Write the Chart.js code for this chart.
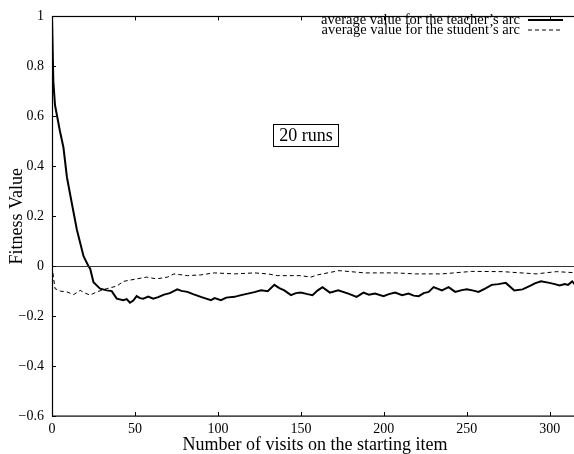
<!DOCTYPE html>
<html>
<head>
<meta charset="utf-8">
<script src="https://cdn.jsdelivr.net/npm/chart.js@4/dist/chart.umd.min.js"></script>
<style>
html,body{margin:0;padding:0;overflow:hidden;background:#fff;}
#wrap{position:relative;width:578px;height:454px;}
</style>
</head>
<body>
<div id="wrap"><canvas id="c" width="578" height="454"></canvas></div>
<script>
const xTicks = [0, 50, 100, 150, 200, 250, 300];
const yTicks = [-0.6, -0.4, -0.2, 0, 0.2, 0.4, 0.6, 0.8, 1];

const seriesLabels = ["average value for the teacher\u2019s arc", "average value for the student\u2019s arc"];

const teacherX = [0, 0.8, 1.8, 4.8, 6.9, 9, 12, 15, 19, 22, 23, 25, 28, 29, 33, 36, 39, 43, 45, 47, 49, 51, 53, 55, 58, 61, 64, 67.5, 71, 75.5, 78, 81.6, 85, 89.7, 92, 95.8, 98, 101.8, 105, 109.9, 114, 118, 122, 126, 130, 134, 137, 140, 144, 147, 150, 154, 157, 160, 163, 167.5, 172.5, 178.6, 183.6, 187.7, 191, 194.7, 199.8, 203, 206.8, 211, 214.9, 218, 221, 224, 227, 230, 235, 239, 243, 247, 250, 254, 257, 261, 265, 269, 273.5, 278.6, 283.6, 288.7, 291, 294.7, 299.8, 303, 305.9, 309, 311, 313.5, 317];
const teacherY = [1, 0.74, 0.645, 0.54, 0.475, 0.356, 0.25, 0.146, 0.04, 0, -0.01, -0.064, -0.084, -0.09, -0.097, -0.1, -0.13, -0.136, -0.132, -0.146, -0.138, -0.12, -0.128, -0.13, -0.122, -0.13, -0.124, -0.114, -0.108, -0.093, -0.099, -0.103, -0.112, -0.123, -0.128, -0.136, -0.128, -0.136, -0.126, -0.123, -0.116, -0.11, -0.104, -0.097, -0.1, -0.075, -0.088, -0.097, -0.116, -0.108, -0.106, -0.112, -0.116, -0.098, -0.084, -0.106, -0.097, -0.11, -0.123, -0.106, -0.114, -0.11, -0.12, -0.112, -0.106, -0.116, -0.11, -0.118, -0.12, -0.108, -0.103, -0.084, -0.097, -0.084, -0.103, -0.096, -0.093, -0.098, -0.103, -0.09, -0.075, -0.072, -0.067, -0.097, -0.093, -0.077, -0.069, -0.061, -0.067, -0.072, -0.077, -0.072, -0.075, -0.061, -0.088];

const studentX = [0, 1.8, 5, 9, 13, 17, 20, 23, 27, 33, 39, 43, 51, 57, 63, 69.5, 73.5, 81.6, 89.7, 97.8, 110, 122, 130, 136, 150, 156, 160, 173, 188.5, 206.8, 219, 235, 253, 271.5, 291.7, 304, 317];
const studentY = [0, -0.09, -0.1, -0.103, -0.114, -0.097, -0.108, -0.116, -0.103, -0.09, -0.08, -0.061, -0.051, -0.044, -0.051, -0.044, -0.031, -0.038, -0.035, -0.027, -0.031, -0.027, -0.031, -0.038, -0.038, -0.044, -0.035, -0.018, -0.027, -0.027, -0.031, -0.031, -0.021, -0.022, -0.031, -0.022, -0.027];

const annotationText = "20 runs";

const toPts = (xs, ys) => xs.map((x, i) => ({x: x, y: ys[i]}));
const serif = "'Liberation Serif', 'Times New Roman', serif";

const framePlugin = {
  id: 'frame',
  afterDatasetsDraw(chart) {
    const {ctx, chartArea: a, scales} = chart;
    ctx.save();
    const y0 = scales.y.getPixelForValue(0);
    ctx.strokeStyle = '#333';
    ctx.lineWidth = 1;
    ctx.beginPath();
    ctx.moveTo(a.left, Math.round(y0) + 0.5);
    ctx.lineTo(a.right, Math.round(y0) + 0.5);
    ctx.stroke();
    ctx.strokeStyle = '#000';
    ctx.lineWidth = 1.2;
    ctx.strokeRect(Math.round(a.left) + 0.5, Math.round(a.top) + 0.5, a.right - a.left, a.bottom - a.top);
    ctx.lineWidth = 1;
    const L = 4;
    xTicks.forEach(v => {
      const px = Math.round(scales.x.getPixelForValue(v)) + 0.5;
      ctx.beginPath();
      ctx.moveTo(px, a.bottom); ctx.lineTo(px, a.bottom - L);
      ctx.moveTo(px, a.top); ctx.lineTo(px, a.top + L);
      ctx.stroke();
    });
    yTicks.forEach(v => {
      const py = Math.round(scales.y.getPixelForValue(v)) + 0.5;
      ctx.beginPath();
      ctx.moveTo(a.left, py); ctx.lineTo(a.left + L, py);
      ctx.moveTo(a.right, py); ctx.lineTo(a.right - L, py);
      ctx.stroke();
    });
    ctx.font = '18px ' + serif;
    ctx.fillStyle = '#000';
    ctx.textAlign = 'center';
    ctx.textBaseline = 'middle';
    const cx = 306, cy = 135;
    const w = ctx.measureText(annotationText).width;
    ctx.fillText(annotationText, cx, cy + 1);
    ctx.lineWidth = 1;
    ctx.strokeRect(Math.round(cx - w / 2 - 6) + 0.5, Math.round(cy - 11) + 0.5, Math.round(w + 12), 22);
    ctx.font = '14.5px ' + serif;
    ctx.textAlign = 'right';
    ctx.textBaseline = 'middle';
    const rows = [20, 30];
    chart.data.datasets.forEach((ds, i) => {
      ctx.fillStyle = '#000';
      ctx.fillText(seriesLabels[i], 520, rows[i]);
      ctx.strokeStyle = '#000';
      ctx.lineWidth = ds.borderWidth;
      ctx.setLineDash(ds.borderDash || []);
      ctx.beginPath();
      ctx.moveTo(528, rows[i]);
      ctx.lineTo(563, rows[i]);
      ctx.stroke();
      ctx.setLineDash([]);
    });
    ctx.restore();
  }
};

new Chart(document.getElementById('c'), {
  type: 'line',
  data: {
    datasets: [
      {label: seriesLabels[0], data: toPts(teacherX, teacherY), borderColor: '#000', borderWidth: 2, pointRadius: 0, tension: 0, fill: false},
      {label: seriesLabels[1], data: toPts(studentX, studentY), borderColor: '#000', borderWidth: 1, borderDash: [4, 3], pointRadius: 0, tension: 0, fill: false}
    ]
  },
  options: {
    responsive: false,
    animation: false,
    events: [],
    layout: {padding: {top: 10, right: 0, bottom: 0, left: 0}},
    plugins: {legend: {display: false}, tooltip: {enabled: false}},
    scales: {
      x: {
        type: 'linear', min: 0, max: 317,
        grid: {display: false, drawTicks: false},
        border: {display: false},
        afterBuildTicks: s => { s.ticks = xTicks.map(v => ({value: v})); },
        afterFit: s => { s.height = 38; },
        ticks: {color: '#000', padding: 5, font: {family: serif, size: 14}, maxRotation: 0, autoSkip: false},
        title: {display: true, text: 'Number of visits on the starting item', color: '#000', font: {family: serif, size: 18, lineHeight: 1}, padding: {top: 0, bottom: 0}}
      },
      y: {
        type: 'linear', min: -0.6, max: 1,
        grid: {display: false, drawTicks: false},
        border: {display: false},
        afterBuildTicks: s => { s.ticks = yTicks.map(v => ({value: v})); },
        afterFit: s => { s.width = 52; },
        ticks: {color: '#000', padding: 8, font: {family: serif, size: 14},
          callback: v => { const r = Math.round(v * 10) / 10; return (r < 0 ? '\u2212' : '') + String(Math.abs(r)); }},
        title: {display: true, text: 'Fitness Value', color: '#000', font: {family: serif, size: 18, lineHeight: 1}, padding: {top: 8, bottom: 0}}
      }
    }
  },
  plugins: [framePlugin]
});
</script>
</body>
</html>
